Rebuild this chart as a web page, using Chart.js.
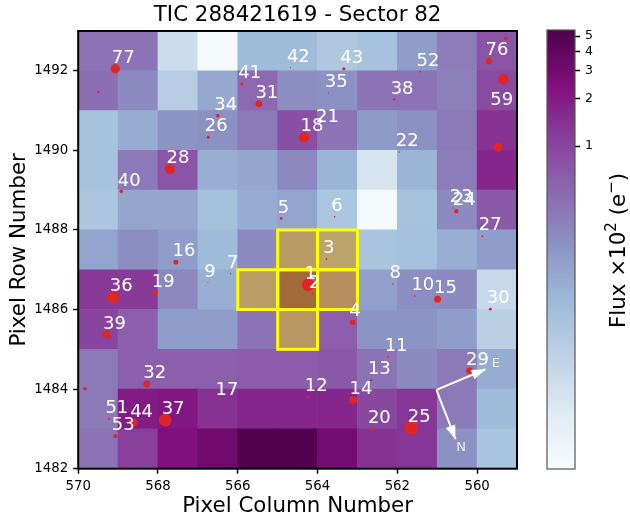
<!DOCTYPE html>
<html><head><meta charset="utf-8">
<script src="https://cdn.jsdelivr.net/npm/chart.js@4"></script>
<style>html,body{margin:0;padding:0;background:#fff}#w{position:relative;width:630px;height:519px;overflow:hidden}canvas{position:absolute;top:0}</style>
</head><body><div id="w"><canvas id="c" width="630" height="519" style="left:0"></canvas><canvas id="b" width="100" height="519" style="left:530px"></canvas></div>
<script>
const titleText = "TIC 288421619 - Sector 82";
const xAxisTitle = "Pixel Column Number";
const yAxisTitle = "Pixel Row Number";
const barTitleParts = [["Flux ×10",0],["2",1],[" (e",0],["−",1],[")",0]];
const xTicks = [570,568,566,564,562,560];
const yTicks = [1482,1484,1486,1488,1490,1492];
const barTicks = [1,2,3,4,5];
const colEdges = [570,569,568,567,566,565,564,563,562,561,560];
const rowEdges = [1492,1491,1490,1489,1488,1487,1486,1485,1484,1483,1482];
const flux = [
[.425,.425,.033,.01,.0953,.0953,.0655,.0788,.189,.352,.746],
[.453,.275,.054,.147,.513,.258,.242,.425,.425,.331,.899],
[.0788,.138,.228,.242,.375,.845,.425,.20,.242,.375,1.39],
[.0788,.375,.746,.13,.157,.292,.115,.0257,.115,.352,1.68],
[.0694,.157,.157,.0838,.138,.167,.0694,.01,.0788,.275,.70],
[.167,.258,.189,.0953,.275,.70,.482,.0738,.0838,.13,.189],
[1.23,1.23,.292,.13,.658,3.78,1.02,.178,.258,.275,.0374],
[1.02,.618,.189,.189,.425,.794,.618,.228,.228,.189,.051],
[.375,.618,.618,.618,.658,.658,.70,.425,.275,.375,.138],
[.375,2.02,2.15,1.39,1.68,1.68,1.68,.957,1.31,.375,.0953],
[.425,1.15,2.44,3.13,5.16,5.16,2.94,1.39,1.31,.242,.0738]];
const fluxMin = 0.0089, fluxMax = 5.46;
const apertureCols = [565,564,566,565,564,565];
const apertureRows = [1487,1487,1486,1486,1486,1485];
const starLabels = ["1","2","3","4","5","6","7","8","9","10","11","12","13","14","15","16","17","18","19","20","21","22","23","24","25","26","27","28","29","30","31","32","34","35","36","37","38","39","40","41","42","43","44","51","52","53","59","76","77","","","","","","",""];
const starCols = [564.235,564.125,563.775,563.12,564.91,563.57,566.18,562.11,566.75,561.56,562.23,564.23,562.65,563.11,560.99,567.55,566.47,564.34,568.07,562.65,563.95,561.95,560.60,560.52,561.65,566.74,559.87,567.70,560.19,559.67,565.47,568.28,566.50,563.73,569.12,567.82,562.08,569.29,568.92,565.90,564.68,563.34,568.61,569.23,561.43,569.07,559.58,559.70,569.07,569.49,559.28,559.34,559.48,569.99,569.83,570.03];
const starRows = [1486.62,1486.39,1487.27,1485.68,1488.29,1488.33,1486.90,1486.64,1486.68,1486.34,1484.81,1483.81,1484.23,1483.72,1486.26,1487.19,1483.70,1490.33,1486.42,1483.00,1490.56,1489.96,1488.55,1488.47,1483.03,1490.33,1487.84,1489.53,1484.46,1486.01,1491.17,1484.13,1490.87,1491.44,1486.31,1483.22,1491.28,1485.37,1488.97,1491.67,1492.08,1492.05,1483.16,1483.25,1491.98,1482.82,1491.00,1492.24,1492.05,1491.47,1492.81,1491.79,1490.08,1485.14,1484.01,1482.88];
const starBright = [40,.64,.8,7.3,1.7,.64,.5,.64,.25,.64,.64,1.4,1.4,16,12,6.2,.64,28,6.8,2.9,1,.5,.64,4.8,49,2.2,1,25,11,2.2,12,12,3.2,.36,36,40,1.4,18,3.2,1.7,.36,2.6,16,1,1,4.8,1.4,10,22,1.4,4,28,22,1,3.2,.5];
const compassOrigin = {x:561.02,y:1483.98};
const compassEast = {x:559.79,y:1484.50};
const compassNorth = {x:560.54,y:1482.74};
const eastLabel = {t:"E",x:559.53,y:1484.63};
const northLabel = {t:"N",x:560.40,y:1482.54};
const buPu = [[247,252,253],[224,236,244],[191,211,230],[158,188,218],[140,150,198],[140,107,177],[136,65,157],[129,15,124],[77,0,75]];

const FONT = "'DejaVu Sans'";
function cmap(t){t=Math.max(0,Math.min(1,t))*8;const i=Math.min(7,Math.floor(t)),f=t-i,a=buPu[i],b=buPu[i+1];
  return `rgb(${a.map((v,k)=>Math.round(v+(b[k]-v)*f)).join(",")})`;}
const norm = v=>Math.log(v/fluxMin)/Math.log(fluxMax/fluxMin);
const cells=[],cellColors=[];
rowEdges.forEach((r,ri)=>colEdges.forEach((c,ci)=>{cells.push({x:c-.5,y:[r,r+1]});cellColors.push(cmap(norm(flux[ri][ci])));}));
const aperture=apertureCols.map((c,i)=>({x:c-.5,y:[apertureRows[i],apertureRows[i]+1]}));
const stars=starCols.map((x,i)=>({x,y:starRows[i]}));

const overlay={id:'overlay',afterDatasetsDraw(ch){
  const {ctx,chartArea:a,scales:{x,y}}=ch;
  ctx.save();
  ctx.strokeStyle='#ffff00';ctx.lineWidth=3;
  apertureCols.forEach((c,i)=>{const x0=x.getPixelForValue(c),x1=x.getPixelForValue(c-1),y0=y.getPixelForValue(apertureRows[i]),y1=y.getPixelForValue(apertureRows[i]+1);
    ctx.strokeRect(x0,y1,x1-x0,y0-y1);});
  ctx.fillStyle='#fff';ctx.font=`18px ${FONT}`;ctx.textAlign='left';ctx.textBaseline='middle';
  starLabels.forEach((l,i)=>{if(l)ctx.fillText(l,x.getPixelForValue(starCols[i])-3.5,y.getPixelForValue(starRows[i])-10.5);});
  [compassEast,compassNorth].forEach(p=>{const x0=x.getPixelForValue(compassOrigin.x),y0=y.getPixelForValue(compassOrigin.y),x1=x.getPixelForValue(p.x),y1=y.getPixelForValue(p.y);
    const ang=Math.atan2(y1-y0,x1-x0),L=14,W=5;ctx.beginPath();ctx.moveTo(x1,y1);
    ctx.lineTo(x1-L*Math.cos(ang)+W*Math.sin(ang),y1-L*Math.sin(ang)-W*Math.cos(ang));
    ctx.lineTo(x1-L*Math.cos(ang)-W*Math.sin(ang),y1-L*Math.sin(ang)+W*Math.cos(ang));ctx.closePath();ctx.fill();});
  ctx.globalAlpha=.85;ctx.font=`13px ${FONT}`;ctx.textAlign='center';
  [eastLabel,northLabel].forEach(p=>ctx.fillText(p.t,x.getPixelForValue(p.x),y.getPixelForValue(p.y)));
  ctx.globalAlpha=1;
  ctx.strokeStyle='#000';ctx.lineWidth=2;ctx.strokeRect(a.left,a.top,a.right-a.left,a.bottom-a.top);
  ctx.restore();
}};
Chart.defaults.animation=false;
new Chart(document.getElementById('c'),{
  type:'bar',
  data:{datasets:[
    {type:'bar',data:cells,backgroundColor:cellColors,borderWidth:0,barPercentage:1,categoryPercentage:1,grouped:false,order:5},
    {type:'bar',data:aperture,backgroundColor:'rgba(255,255,0,0.4)',borderWidth:0,barPercentage:1,categoryPercentage:1,grouped:false,order:4,inflateAmount:0},
    {type:'scatter',data:stars,backgroundColor:'#de2626',borderWidth:0,pointRadius:c=>Math.sqrt(starBright[c.dataIndex]),order:3},
    {type:'scatter',showLine:true,data:[compassOrigin,compassEast],borderColor:'#fff',borderWidth:2,pointRadius:0,order:2},
    {type:'scatter',showLine:true,data:[compassOrigin,compassNorth],borderColor:'#fff',borderWidth:2,pointRadius:0,order:2}
  ]},
  options:{responsive:false,animation:false,
    layout:{padding:{left:0,right:113,top:0,bottom:0}},
    plugins:{legend:{display:false},tooltip:{enabled:false},
      title:{display:true,text:titleText,fullSize:false,color:'#000',font:{family:FONT,size:21.4,weight:'normal',lineHeight:1.2},padding:{top:2.5,bottom:2.8}}},
    scales:{
      x:{type:'linear',reverse:true,min:559,max:570,offset:false,
        afterBuildTicks:s=>{s.ticks=xTicks.map(v=>({value:v}));},
        afterFit:s=>{s.height=50.3;},
        grid:{offset:false,drawOnChartArea:false,drawTicks:true,tickLength:5,tickWidth:1.5,tickColor:'#000'},
        border:{display:false},
        ticks:{color:'#000',font:{family:FONT,size:13.3},autoSkip:false,maxRotation:0,padding:5,callback:v=>String(v)},
        title:{display:true,text:xAxisTitle,color:'#000',font:{family:FONT,size:21.4},padding:{top:0,bottom:0}}},
      y:{type:'linear',min:1482,max:1493,
        afterBuildTicks:s=>{s.ticks=yTicks.map(v=>({value:v}));},
        afterFit:s=>{s.width=78.2;},
        grid:{drawOnChartArea:false,drawTicks:true,tickLength:5,tickWidth:1.5,tickColor:'#000'},
        border:{display:false},
        ticks:{color:'#000',font:{family:FONT,size:13.3},autoSkip:false,padding:5,callback:v=>String(v)},
        title:{display:true,text:yAxisTitle,color:'#000',font:{family:FONT,size:21.4},padding:{top:7,bottom:0}}}
    }},
  plugins:[overlay]
});

const barFrame={id:'barFrame',afterDatasetsDraw(ch){const {ctx,chartArea:a}=ch;ctx.save();
  ctx.strokeStyle='#555';ctx.lineWidth=1.2;ctx.strokeRect(a.left,a.top,a.right-a.left,a.bottom-a.top);
  ctx.translate(95,250.5);ctx.rotate(-Math.PI/2);ctx.fillStyle='#000';ctx.textAlign='left';ctx.textBaseline='alphabetic';
  const fontOf=s=>`${s?15:21.4}px ${FONT}`;
  let total=0;barTitleParts.forEach(([t,s])=>{ctx.font=fontOf(s);total+=ctx.measureText(t).width;});
  let pos=-total/2;barTitleParts.forEach(([t,s])=>{ctx.font=fontOf(s);ctx.fillText(t,pos,s?-9:0);pos+=ctx.measureText(t).width;});
  ctx.restore();}};
function barFill(c){const a=c.chart.chartArea;if(!a)return '#888';const g=c.chart.ctx.createLinearGradient(0,a.bottom,0,a.top);
  buPu.forEach((col,i)=>g.addColorStop(i/8,`rgb(${col.join(",")})`));return g;}
new Chart(document.getElementById('b'),{
  type:'bar',
  data:{labels:['flux'],datasets:[{data:[[fluxMin,fluxMax]],backgroundColor:barFill,borderWidth:0,barPercentage:1,categoryPercentage:1}]},
  options:{responsive:false,animation:false,
    layout:{padding:{left:17,right:0,top:30,bottom:50}},
    plugins:{legend:{display:false},tooltip:{enabled:false}},
    scales:{
      x:{display:false},
      y:{type:'logarithmic',position:'right',min:fluxMin,max:fluxMax,
        afterBuildTicks:s=>{s.ticks=barTicks.map(v=>({value:v}));},
        afterFit:s=>{s.width=55;},
        grid:{drawOnChartArea:false,drawTicks:true,tickLength:5,tickWidth:1.5,tickColor:'#000'},
        border:{display:false},
        ticks:{color:'#000',font:{family:FONT,size:12.5},autoSkip:false,padding:5,callback:v=>String(v)}}
    }},
  plugins:[barFrame]
});
</script></body></html>
